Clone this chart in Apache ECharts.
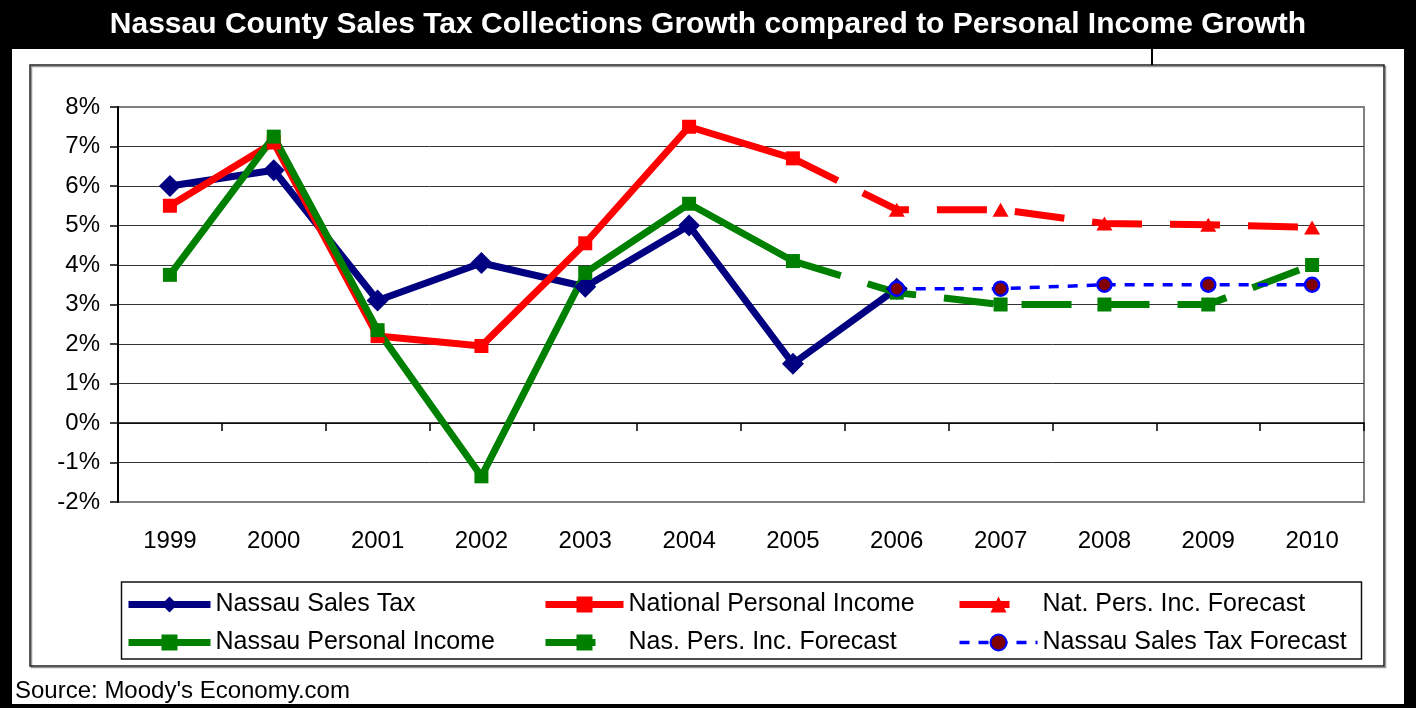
<!DOCTYPE html>
<html>
<head>
<meta charset="utf-8">
<title>Nassau County Sales Tax Collections Growth</title>
<script src="https://cdn.jsdelivr.net/npm/echarts@6/dist/echarts.min.js"></script>
<style>
  html, body { margin: 0; padding: 0; background: #fff; }
  #chart { width: 1416px; height: 708px; }
</style>
</head>
<body>
<div id="chart"></div>
<script>
// Annual growth rates, in percent
const years = ['1999', '2000', '2001', '2002', '2003', '2004', '2005', '2006', '2007', '2008', '2009', '2010'];
const nassauSalesTax     = [6.0, 6.4, 3.1, 4.05, 3.45, 5.0, 1.5, 3.4, null, null, null, null];
const nationalIncome     = [5.5, 7.1, 2.2, 1.95, 4.55, 7.5, 6.7, null, null, null, null, null];
const natIncomeForecast  = [null, null, null, null, null, null, 6.7, 5.4, 5.4, 5.05, 5.02, 4.95];
const nassauIncome       = [3.75, 7.25, 2.35, -1.35, 3.8, 5.55, 4.1, null, null, null, null, null];
const nasIncomeForecast  = [null, null, null, null, null, null, 4.1, 3.3, 3.0, 3.0, 3.0, 4.0];
const salesTaxForecast   = [null, null, null, null, null, null, null, 3.4, 3.4, 3.5, 3.5, 3.5];
const yTicks = { min: -2, max: 8, step: 1 };

const FONT = "'Liberation Sans', Arial, sans-serif";

// forecast lines pick up from the last actual year; no marker on that joining point
function joinedForecast(values) {
  let first = true;
  return values.map(v => {
    if (v === null) return null;
    if (first) { first = false; return { value: v, symbol: 'none' }; }
    return v;
  });
}

const chart = echarts.init(document.getElementById('chart'), null, { renderer: 'canvas' });

const legendBase = {
  orient: 'vertical',
  top: 592,
  padding: 0,
  itemWidth: 82,
  itemHeight: 20,
  itemGap: 13,
  selectedMode: false,
  lineStyle: { width: 'inherit', type: 'inherit' },
  textStyle: { fontSize: 25, color: '#000', fontFamily: FONT }
};

chart.setOption({
  animation: false,
  backgroundColor: '#fff',
  textStyle: { fontFamily: FONT },
  title: [
    {
      text: 'Nassau County Sales Tax Collections Growth compared to Personal Income Growth',
      left: 'center',
      top: 10,
      padding: 0,
      textStyle: { color: '#fff', fontWeight: 'bold', fontSize: 30, fontFamily: FONT }
    },
    {
      text: "Source: Moody's Economy.com",
      left: 15,
      top: 679,
      padding: 0,
      textStyle: { color: '#000', fontWeight: 'normal', fontSize: 24, fontFamily: FONT }
    }
  ],
  graphic: [
    { type: 'rect', z: -10, shape: { x: 0, y: 0, width: 1416, height: 49 }, style: { fill: '#000' } },
    { type: 'rect', z: 100, shape: { x: 0, y: 0, width: 12, height: 708 }, style: { fill: '#000' } },
    { type: 'rect', z: 100, shape: { x: 1404, y: 0, width: 12, height: 708 }, style: { fill: '#000' } },
    { type: 'rect', z: 100, shape: { x: 0, y: 704, width: 1416, height: 4 }, style: { fill: '#000' } },
    { type: 'line', z: 100, shape: { x1: 1152, y1: 49, x2: 1152, y2: 65 }, style: { stroke: '#000', lineWidth: 2 } },
    // chart frame with a soft drop shadow
    { type: 'rect', z: -5, shape: { x: 31.5, y: 66.5, width: 1354, height: 601 }, style: { fill: null, stroke: '#999', lineWidth: 1.5 } },
    { type: 'rect', z: -4, shape: { x: 30, y: 65, width: 1354, height: 601 }, style: { fill: null, stroke: '#222', lineWidth: 1.5 } },
    // legend frame
    { type: 'rect', z: -4, shape: { x: 121.5, y: 582, width: 1240, height: 77 }, style: { fill: null, stroke: '#111', lineWidth: 1.5 } }
  ],
  legend: [
    Object.assign({}, legendBase, { left: 125, data: ['Nassau Sales Tax', 'Nassau Personal Income'] }),
    Object.assign({}, legendBase, { left: 542, itemWidth: 78, data: ['National Personal Income', 'Nas. Pers. Inc. Forecast'] }),
    Object.assign({}, legendBase, { left: 956, itemWidth: 78, data: ['Nat. Pers. Inc. Forecast', 'Nassau Sales Tax Forecast'] })
  ],
  grid: {
    left: 118, right: 52, top: 107, bottom: 206,
    show: true,
    backgroundColor: '#fff',
    borderColor: '#808080',
    borderWidth: 2
  },
  xAxis: {
    type: 'category',
    data: years,
    boundaryGap: true,
    axisLine: { show: true, onZero: true, lineStyle: { color: '#000', width: 1.5 } },
    axisTick: { show: true, length: 8, lineStyle: { color: '#000', width: 1.5 } },
    axisLabel: { margin: 27, fontSize: 24, color: '#000', fontFamily: FONT },
    splitLine: { show: false }
  },
  yAxis: {
    type: 'value',
    min: yTicks.min,
    max: yTicks.max,
    interval: yTicks.step,
    axisLine: { show: true, lineStyle: { color: '#000', width: 2 } },
    axisTick: { show: true, length: 8, lineStyle: { color: '#000', width: 1.5 } },
    axisLabel: { formatter: '{value}%', fontSize: 24, margin: 18, color: '#000', fontFamily: FONT },
    splitLine: { show: true, showMinLine: false, showMaxLine: false, lineStyle: { color: '#333', width: 1 } }
  },
  series: [
    {
      name: 'Nassau Sales Tax',
      type: 'line',
      data: nassauSalesTax,
      symbol: 'diamond',
      symbolSize: 22,
      lineStyle: { color: '#000080', width: 7 },
      itemStyle: { color: '#000080', borderWidth: 0 },
      emphasis: { disabled: true }
    },
    {
      name: 'National Personal Income',
      type: 'line',
      data: nationalIncome,
      symbol: 'rect',
      symbolSize: 14,
      lineStyle: { color: '#FF0000', width: 7 },
      itemStyle: { color: '#FF0000', borderWidth: 0 },
      emphasis: { disabled: true }
    },
    {
      name: 'Nat. Pers. Inc. Forecast',
      type: 'line',
      data: joinedForecast(natIncomeForecast),
      symbol: 'triangle',
      symbolSize: [16, 14],
      lineStyle: { color: '#FF0000', width: 7, type: [50, 28] },
      itemStyle: { color: '#FF0000', borderWidth: 0 },
      emphasis: { disabled: true }
    },
    {
      name: 'Nassau Personal Income',
      type: 'line',
      data: nassauIncome,
      symbol: 'rect',
      symbolSize: 14,
      lineStyle: { color: '#008000', width: 7 },
      itemStyle: { color: '#008000', borderWidth: 0 },
      emphasis: { disabled: true }
    },
    {
      name: 'Nas. Pers. Inc. Forecast',
      type: 'line',
      data: joinedForecast(nasIncomeForecast),
      symbol: 'rect',
      symbolSize: 14,
      lineStyle: { color: '#008000', width: 7, type: [50, 28] },
      itemStyle: { color: '#008000', borderWidth: 0 },
      emphasis: { disabled: true }
    },
    {
      name: 'Nassau Sales Tax Forecast',
      type: 'line',
      data: salesTaxForecast,
      symbol: 'circle',
      symbolSize: 14,
      lineStyle: { color: '#0000FF', width: 3.5, type: [10, 9] },
      itemStyle: { color: '#800000', borderColor: '#0000FF', borderWidth: 2.5 },
      emphasis: { disabled: true }
    }
  ]
});
</script>
</body>
</html>
